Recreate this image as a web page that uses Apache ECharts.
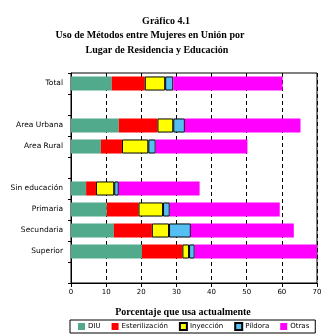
<!DOCTYPE html>
<html><head><meta charset="utf-8">
<script src="https://cdn.jsdelivr.net/npm/echarts@6/dist/echarts.min.js"></script>
<style>html,body{margin:0;padding:0;background:#fff}#c{width:329px;height:336px}</style>
</head><body><div id="c"></div>
<script>
var categories = ['Total', '', 'Area Urbana', 'Area Rural', ' ', 'Sin educación', 'Primaria', 'Secundaria', 'Superior', '  '];
var diu      = [11.6, null, 13.6, 8.5, null, 4.3, 10.2, 12.2, 20.2, null];
var ester    = [9.4, null, 11.0, 6.0, null, 2.8, 9.0, 10.8, 11.5, null];
var inyec    = [5.8, null, 4.5, 7.5, null, 5.2, 7.0, 4.9, 1.9, null];
var pildora  = [2.3, null, 3.3, 2.1, null, 1.3, 1.9, 6.2, 1.6, null];
var otras    = [31.1, null, 32.9, 26.1, null, 23.0, 31.3, 29.3, 34.8, null];
var xTicks = [0, 10, 20, 30, 40, 50, 60, 70];

var chart = echarts.init(document.getElementById('c'), null, {renderer: 'canvas'});
var serif = '"Liberation Serif", "Times New Roman", serif';
var sans = '"DejaVu Sans", sans-serif';
function mk(name, data, color, border) {
  return {
    name: name, type: 'bar', stack: 'a', data: data,
    barCategoryGap: '33%',
    itemStyle: {color: color, borderColor: border ? '#000' : color, borderWidth: border ? 1 : 0},
    emphasis: {disabled: true}
  };
}
var tStyle = {fontFamily: serif, fontSize: 10, fontWeight: 'bold', color: '#000'};
chart.setOption({
  animation: false,
  title: [
    {text: 'Gráfico 4.1', left: 161, top: 11, textAlign: 'center', textStyle: tStyle},
    {text: 'Uso de Métodos entre Mujeres en Unión por', left: 145, top: 25, textAlign: 'center', textStyle: tStyle},
    {text: 'Lugar de Residencia y Educación', left: 152, top: 40, textAlign: 'center', textStyle: tStyle},
    {text: 'Porcentaje que usa actualmente', left: 178, top: 302, textAlign: 'center', textStyle: tStyle}
  ],
  grid: {left: 71, right: 12, top: 73, bottom: 53, show: true, borderColor: '#000', borderWidth: 1, containLabel: false},
  xAxis: {
    type: 'value', min: 0, max: 70, interval: 10,
    axisLine: {show: true, lineStyle: {color: '#000', width: 1}},
    axisTick: {show: true, length: 4, lineStyle: {color: '#000'}},
    axisLabel: {fontFamily: sans, fontSize: 7, color: '#000', margin: 6,
      formatter: function (v) { return xTicks.indexOf(v) >= 0 ? String(v) : ''; }},
    splitLine: {show: true, lineStyle: {color: '#000', type: [4, 3], width: 1}}
  },
  yAxis: {
    type: 'category', data: categories, inverse: true,
    axisLine: {show: true, lineStyle: {color: '#000', width: 1}},
    axisTick: {show: true, length: 3, lineStyle: {color: '#000'}},
    axisLabel: {fontFamily: sans, fontSize: 7.5, color: '#000', margin: 8},
    splitLine: {show: false}
  },
  legend: {
    top: 320, left: 70, width: 256, itemWidth: 7, itemHeight: 7, itemGap: 11,
    borderColor: '#000', borderWidth: 1, padding: [2, 6, 2, 8],
    icon: 'rect',
    textStyle: {fontFamily: sans, fontSize: 7, color: '#000', padding: [0, 0, 0, -2]},
    data: ['DIU', 'Esterilización', 'Inyección', 'Píldora', 'Otras']
  },
  series: [
    mk('DIU', diu, '#52aa8c', false),
    mk('Esterilización', ester, '#ff0000', false),
    mk('Inyección', inyec, '#ffff00', true),
    mk('Píldora', pildora, '#55bff4', true),
    mk('Otras', otras, '#ff00ff', false)
  ]
});
</script></body></html>
